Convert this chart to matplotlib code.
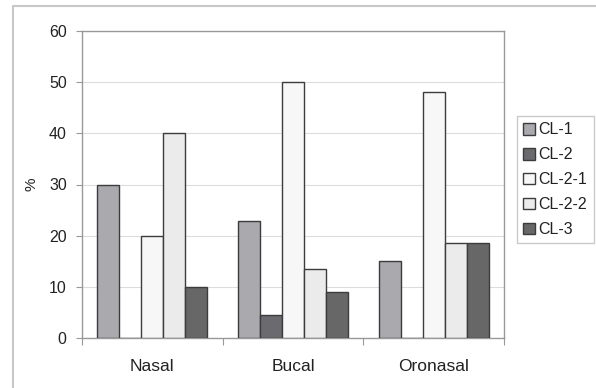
import matplotlib
matplotlib.use("Agg")
import matplotlib.pyplot as plt
from matplotlib.patches import Rectangle
import numpy as np

plt.rcParams['font.family'] = ['Liberation Sans', 'DejaVu Sans']

categories = ["Nasal", "Bucal", "Oronasal"]
series_names = ["CL-1", "CL-2", "CL-2-1", "CL-2-2", "CL-3"]
cl1 = [30, 22.8, 15]
cl2 = [0, 4.5, 0]
cl2_1 = [20, 50, 48]
cl2_2 = [40, 13.5, 18.6]
cl3 = [10, 9, 18.6]
yticks = [0, 10, 20, 30, 40, 50, 60]

series = [cl1, cl2, cl2_1, cl2_2, cl3]
colors = ["#a9a9ae", "#6b6b6f", "#f7f7f7", "#ebebeb", "#676767"]

fig = plt.figure(figsize=(5.96, 3.88), dpi=100)
fig.patch.set_facecolor("white")

# outer chart frame
fig.patches.append(Rectangle((13 / 596, -0.05), 1.2, 1 - 6 / 388 + 0.05,
                             transform=fig.transFigure, fill=False,
                             edgecolor="#c8c8c8", linewidth=1.5))

ax = fig.add_axes([82 / 596, 50 / 388, 422 / 596, 307 / 388])

bar_w = 0.156
x = np.arange(len(categories)) + 0.5
offsets = (np.arange(len(series)) - 2) * bar_w
for vals, off, col, name in zip(series, offsets, colors, series_names):
    ax.bar(x + off, vals, width=bar_w, color=col, edgecolor="#3c3c3c",
           linewidth=1.0, label=name, zorder=3)

ax.set_xlim(0, 3)
ax.set_ylim(0, 60)
ax.set_yticks(yticks)
ax.set_yticklabels([str(v) for v in yticks], fontsize=11.5, color="#222222")
ax.yaxis.grid(True, color="#dcdcdc", linewidth=0.8, zorder=0)

ax.set_xticks([0, 1, 2, 3])
ax.set_xticklabels([])
ax.tick_params(axis="x", length=5, color="#999999", width=0.8)
ax.tick_params(axis="y", length=4, color="#999999", width=0.8, pad=7)
for xc, lab in zip(x, categories):
    ax.text(xc, -5.5, lab, ha="center", va="center", fontsize=12.5,
            color="#222222", transform=ax.transData)

for sp in ax.spines.values():
    sp.set_color("#999999")
    sp.set_linewidth(1.0)

ax.set_ylabel("%", fontsize=11, color="#222222")
ax.yaxis.set_label_coords((38 - 82) / 422, (338 - 184) / 307)

leg = ax.legend(loc="upper left", bbox_to_anchor=(517 / 596, 1 - 116 / 388),
                bbox_transform=fig.transFigure, fontsize=11.5, frameon=True,
                fancybox=False, edgecolor="#bdbdbd", handlelength=0.75,
                handleheight=0.75, handletextpad=0.2, labelspacing=0.62,
                borderpad=0.4, borderaxespad=0)
leg.get_frame().set_linewidth(1.0)
for t in leg.get_texts():
    t.set_color("#222222")

fig.savefig("out.png", dpi=100, facecolor="white")
